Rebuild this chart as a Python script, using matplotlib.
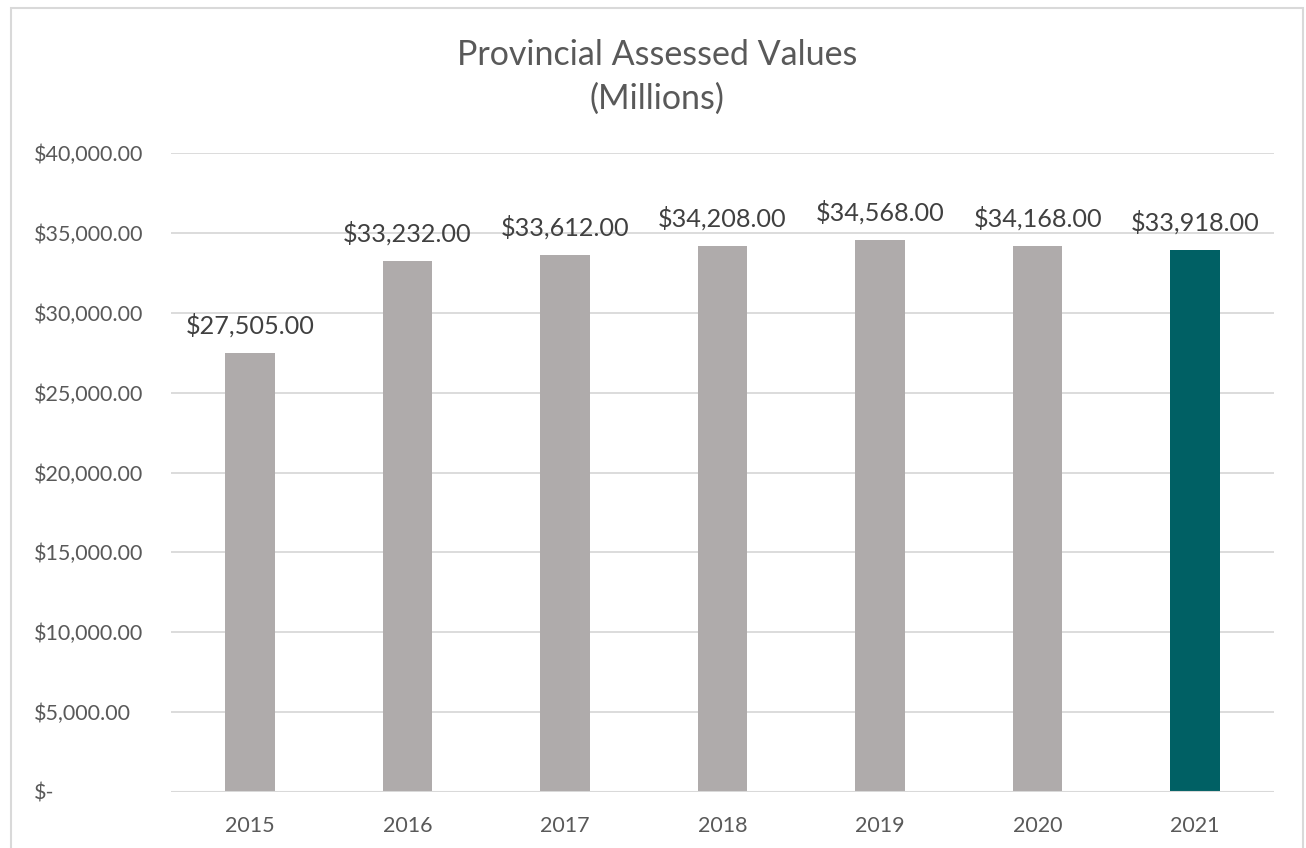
import matplotlib
matplotlib.use('Agg')
import matplotlib.pyplot as plt
from matplotlib import patches
from matplotlib.ticker import FuncFormatter

years = ['2015', '2016', '2017', '2018', '2019', '2020', '2021']
values = [27505, 33232, 33612, 34208, 34568, 34168, 33918]
bar_colors = ['#AFABAB'] * 6 + ['#006064']

plt.rcParams['font.family'] = ['Lato', 'DejaVu Sans']
text_color = '#595959'

fig = plt.figure(figsize=(13.06, 8.48), dpi=100)
ax = fig.add_axes([171 / 1306, 1 - 792 / 848, (1274 - 171) / 1306, (792 - 153) / 848])

x = range(len(years))
ax.bar(x, values, width=0.315, color=bar_colors, zorder=3)
for i, v in enumerate(values):
    ax.text(i, v + 1200, '${:,.2f}'.format(v), ha='center', va='baseline',
            fontsize=18.2, color='#404040', zorder=5)

ax.set_xlim(-0.5, len(years) - 0.5)
ax.set_ylim(0, 40000)
ax.set_yticks(range(0, 40001, 5000))
ax.yaxis.set_major_formatter(FuncFormatter(lambda v, p: '$-' if v == 0 else '${:,.2f}'.format(v)))
ax.set_xticks(list(x))
ax.set_xticklabels(years)
ax.tick_params(axis='both', length=0, labelsize=15.5, labelcolor=text_color)
ax.tick_params(axis='x', pad=17)
ax.grid(axis='y', color='#d9d9d9', linewidth=1.3, zorder=0)
for s in ax.spines.values():
    s.set_visible(False)
ax.axhline(0, color='#d9d9d9', linewidth=1.5, zorder=4)

# y labels are left aligned in the reference
for lbl in ax.get_yticklabels():
    lbl.set_horizontalalignment('left')
ax.tick_params(axis='y', pad=(171 - 34) * 0.72)

fig.text(657 / 1306, 1 - 77 / 848, 'Provincial Assessed Values\n(Millions)', ha='center', va='center',
         fontsize=24.5, color=text_color, linespacing=1.42)

border = patches.Rectangle((11 / 1306, -0.01), (1303 - 11) / 1306, (848 - 8) / 848 + 0.01,
                           transform=fig.transFigure, fill=False, edgecolor='#d9d9d9', linewidth=1.5)
fig.patches.append(border)

fig.savefig('out.png', dpi=100)
